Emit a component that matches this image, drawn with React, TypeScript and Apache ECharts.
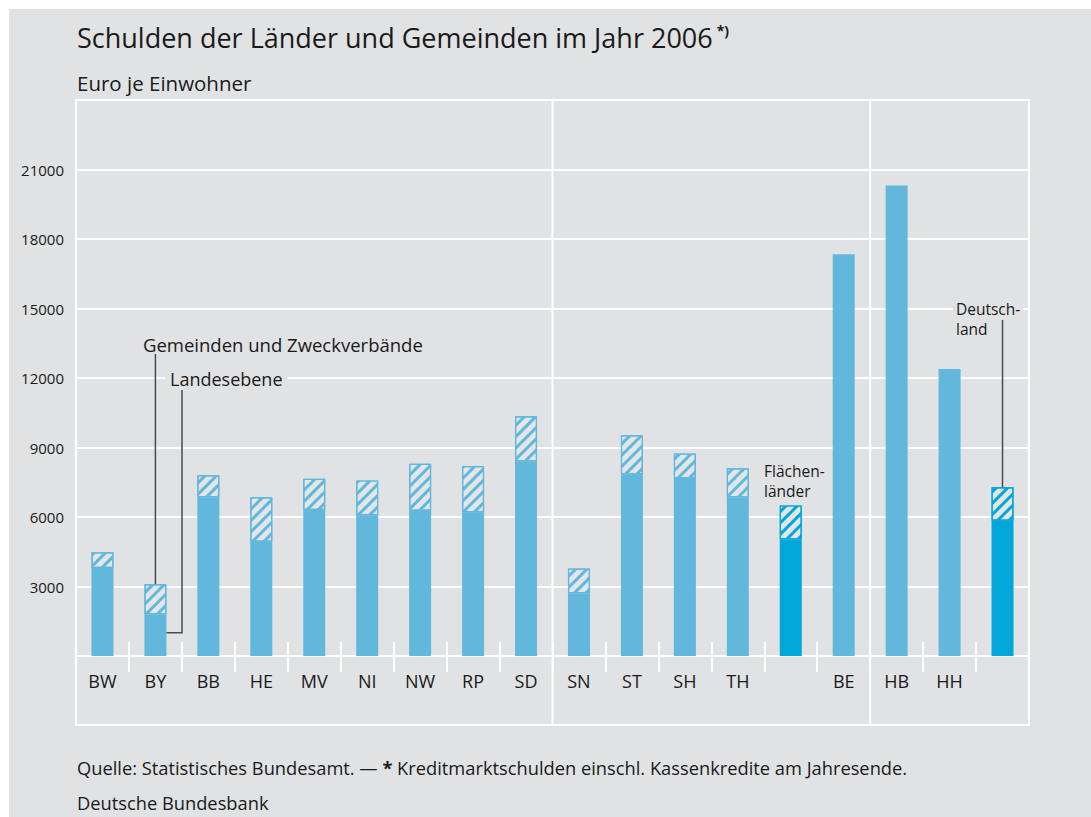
import React, { useEffect, useRef } from 'react';
import * as echarts from 'echarts';

const categories = ['BW', 'BY', 'BB', 'HE', 'MV', 'NI', 'NW', 'RP', 'SD', 'SN', 'ST', 'SH', 'TH', 'Flächenländer', 'BE', 'HB', 'HH', 'Deutschland'];
const hiddenLabels = ['Flächenländer', 'Deutschland'];
// Landesebene (Euro je Einwohner)
const landesebene = [3800, 1800, 6850, 4930, 6300, 6080, 6270, 6210, 8410, 2700, 7850, 7680, 6840, 5030, 17340, 20310, 12390, 5840];
// Gemeinden und Zweckverbände (Euro je Einwohner)
const gemeinden = [680, 1300, 950, 1920, 1350, 1500, 2030, 1990, 1940, 1080, 1680, 1060, 1260, 1470, 0, 0, 0, 1440];
const highlighted = ['Flächenländer', 'Deutschland'];
const yTicks = [0, 3000, 6000, 9000, 12000, 15000, 18000, 21000, 24000];

const FONT = '"Open Sans", "Noto Sans", sans-serif';
const TEXT = '#1a1a1a';
const BG = '#e1e2e4';
const LIGHT = '#62b7dc';
const DARK = '#00a7d8';
const HATCH_BG = '#e3e5e7';

const decal = (color: string) => ({
  symbol: 'rect',
  symbolSize: 1,
  symbolKeepAspect: false,
  color,
  dashArrayX: [1, 0],
  dashArrayY: [2.5, 5],
  rotation: -Math.PI / 4,
});

export default function App() {
  const ref = useRef<HTMLDivElement>(null);
  useEffect(() => {
    const el = ref.current!;
    const chart = echarts.init(el, null, { renderer: 'svg' });
    const option: any = {
      animation: false,
      backgroundColor: '#ffffff',
      grid: { left: 76, right: 62, top: 100, bottom: 161, containLabel: false },
      xAxis: [
        {
          type: 'category',
          data: categories,
          position: 'bottom',
          axisLine: { show: true, lineStyle: { color: '#ffffff', width: 2 } },
          axisTick: { show: true, interval: 0, length: 16, lineStyle: { color: '#ffffff', width: 2 } },
          axisLabel: {
            interval: 0,
            margin: 16,
            fontSize: 18,
            fontFamily: FONT,
            color: TEXT,
            formatter: (v: string) => (hiddenLabels.includes(v) ? '' : v),
          },
          splitLine: { show: false },
        },
        {
          type: 'category',
          data: categories,
          position: 'bottom',
          offset: 0,
          axisLine: { show: false },
          axisTick: { show: true, inside: true, interval: 0, length: 14, lineStyle: { color: '#ffffff', width: 2 } },
          axisLabel: { show: false },
          splitLine: { show: false },
        },
      ],
      yAxis: {
        type: 'value',
        min: yTicks[0],
        max: yTicks[yTicks.length - 1],
        interval: 3000,
        axisLine: { show: false },
        axisTick: { show: false },
        axisLabel: {
          margin: 12,
          fontSize: 15,
          fontFamily: FONT,
          color: TEXT,
          formatter: (v: number) => (v === yTicks[0] || v === yTicks[yTicks.length - 1] ? '' : String(v)),
        },
        splitLine: { show: true, lineStyle: { color: '#ffffff', width: 2 } },
      },
      series: [
        {
          name: 'Landesebene',
          type: 'bar',
          stack: 'total',
          barWidth: 22,
          xAxisIndex: 0,
          data: landesebene.map((v, i) => ({
            value: v,
            itemStyle: { color: highlighted.includes(categories[i]) ? DARK : LIGHT },
          })),
        },
        {
          name: 'Gemeinden und Zweckverbände',
          type: 'bar',
          stack: 'total',
          barWidth: 22,
          xAxisIndex: 0,
          data: gemeinden.map((v, i) => {
            const c = highlighted.includes(categories[i]) ? DARK : LIGHT;
            return v
              ? { value: v, itemStyle: { color: HATCH_BG, borderColor: c, borderWidth: 1.2, decal: decal(c) } }
              : '-';
          }),
        },
      ],
    };
    chart.setOption(option);

    const px = (i: number, v: number) => chart.convertToPixel({ xAxisIndex: 0, yAxisIndex: 0 }, [i, v]) as number[];
    const sep1 = (px(8, 0)[0] + px(9, 0)[0]) / 2;
    const sep2 = (px(14, 0)[0] + px(15, 0)[0]) / 2;
    const by = 1;
    const byTop = px(by, landesebene[by] + gemeinden[by]);
    const byLand = px(by, 1000);
    const de = 17;
    const deTop = px(de, landesebene[de] + gemeinden[de]);

    const lineStyle = { stroke: '#ffffff', lineWidth: 2 };
    const annot = { stroke: '#4a4a4a', lineWidth: 1.5 };
    const small = { fontSize: 15.5, lineHeight: 18, fontFamily: FONT, fill: TEXT, verticalAlign: 'middle' };

    chart.setOption({
      graphic: [
        { type: 'rect', z: -100, silent: true, shape: { x: 9, y: 9, width: 1082, height: 808 }, style: { fill: BG } },
        { type: 'rect', z: 1, silent: true, shape: { x: 76, y: 100, width: 953, height: 625 }, style: { fill: 'transparent', ...lineStyle } },
        { type: 'line', z: 1, silent: true, shape: { x1: sep1, y1: 100, x2: sep1, y2: 725 }, style: lineStyle },
        { type: 'line', z: 1, silent: true, shape: { x1: sep2, y1: 100, x2: sep2, y2: 725 }, style: lineStyle },
        {
          type: 'text', x: 77, y: 37, silent: true,
          style: {
            text: '{t|Schulden der Länder und Gemeinden im Jahr 2006}{s|*)}',
            verticalAlign: 'middle',
            rich: {
              t: { fontSize: 27, fontFamily: FONT, fill: TEXT },
              s: { fontSize: 14, fontWeight: 'bold', fontFamily: FONT, fill: TEXT, padding: [0, 0, 13, 4] },
            },
          },
        },
        { type: 'text', x: 77, y: 83, silent: true, style: { text: 'Euro je Einwohner', fontSize: 20.5, fontFamily: FONT, fill: TEXT, verticalAlign: 'middle' } },
        // Gemeinden annotation
        { type: 'line', z: 5, silent: true, shape: { x1: byTop[0], y1: 354, x2: byTop[0], y2: byTop[1] }, style: annot },
        { type: 'text', z: 5, x: 143, y: 344, silent: true, style: { text: 'Gemeinden und Zweckverbände', fontSize: 18.5, fontFamily: FONT, fill: TEXT, verticalAlign: 'middle' } },
        // Landesebene annotation
        {
          type: 'polyline', z: 5, silent: true,
          shape: { points: [[182, 390], [182, byLand[1]], [byLand[0] + 11, byLand[1]]] },
          style: { ...annot, fill: 'none' },
        },
        { type: 'text', z: 5, x: 165, y: 379, silent: true, style: { text: 'Landesebene', fontSize: 18, fontFamily: FONT, fill: TEXT, verticalAlign: 'middle', backgroundColor: BG, padding: [0, 5] } },
        // Flächenländer
        { type: 'text', z: 5, x: 764, y: 471, silent: true, style: { text: 'Flächen-', ...small } },
        { type: 'text', z: 5, x: 764, y: 491, silent: true, style: { text: 'länder', ...small } },
        // Deutschland
        { type: 'line', z: 5, silent: true, shape: { x1: deTop[0], y1: 320, x2: deTop[0], y2: deTop[1] }, style: annot },
        { type: 'text', z: 5, x: 953, y: 309, silent: true, style: { text: 'Deutsch-', ...small, backgroundColor: BG, padding: [0, 3] } },
        { type: 'text', z: 5, x: 956, y: 329, silent: true, style: { text: 'land', ...small } },
        // Footer
        {
          type: 'text', x: 77, y: 767, silent: true,
          style: {
            text: '{n|Quelle: Statistisches Bundesamt. — }{b|*}{n| Kreditmarktschulden einschl. Kassenkredite am Jahresende.}',
            verticalAlign: 'middle',
            rich: {
              n: { fontSize: 18.3, fontFamily: FONT, fill: TEXT },
              b: { fontSize: 18.3, fontWeight: 'bold', fontFamily: FONT, fill: TEXT },
            },
          },
        },
        { type: 'text', x: 77, y: 802, silent: true, style: { text: 'Deutsche Bundesbank', fontSize: 18.3, fontFamily: FONT, fill: TEXT, verticalAlign: 'middle' } },
      ],
    });
    return () => chart.dispose();
  }, []);
  return <div ref={ref} style={{ position: 'fixed', left: 0, top: 0, width: 1091, height: 817 }} />;
}
